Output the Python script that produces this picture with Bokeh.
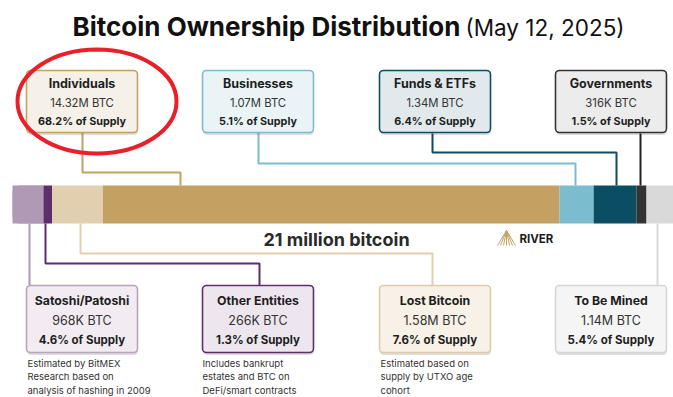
from bokeh.plotting import figure
from bokeh.models import Range1d, ColumnDataSource
from bokeh.core.properties import value
from bokeh.embed import file_html
from bokeh.resources import INLINE
import numpy as np

# ---------------- data ----------------
categories = ["Satoshi/Patoshi", "Other Entities", "Lost Bitcoin", "Individuals",
              "Businesses", "Funds & ETFs", "Governments", "To Be Mined"]
btc_held = ["968K", "266K", "1.58M", "14.32M", "1.07M", "1.34M", "316K", "1.14M"]
supply_pct = [4.6, 1.3, 7.6, 68.2, 5.1, 6.4, 1.5, 5.4]
notes_satoshi = ["Estimated by BitMEX", "Research based on", "analysis of hashing in 2009"]
notes_other = ["Includes bankrupt", "estates and BTC on", "DeFi/smart contracts"]
notes_lost = ["Estimated based on", "supply by UTXO age", "cohort"]
title_text = "Bitcoin Ownership Distribution"
date_text = "(May 12, 2025)"
bar_text = "21 million bitcoin"
brand_text = "RIVER"

# ---------------- styles / layout ----------------
bar_colors = ["#B099B4", "#5E2D6B", "#E2CFB0", "#C4A063",
              "#7BBCCE", "#0B4D63", "#333333", "#D9D9D9"]
box_fills = ["#F2ECF2", "#EDE6EF", "#F7F1E7", "#F5F0E8",
             "#EAF4F7", "#E1E9ED", "#ECECEC", "#F5F5F5"]
box_lines = ["#B9A3BD", "#5E2D6B", "#E0CBA8", "#C4A063",
             "#7BBCCE", "#0B4D63", "#333333", "#D6D6D6"]
line_colors = ["#B099B4", "#5E2D6B", "#E2CFB0", "#C4A063",
               "#7BBCCE", "#0B4D63", "#222222", "#D9D9D9"]
row_of = ["bottom", "bottom", "bottom", "top", "top", "top", "top", "bottom"]
col_of = [0, 1, 2, 0, 1, 2, 3, 3]
col_left = [26, 202, 379, 555]
BOX_W = 111
ROW_Y = {"top": (70, 132), "bottom": (285, 352)}
BAR_TOP, BAR_BOT = 185, 223
BAR_X0, PX_PER_PCT = 12, 6.695
connectors = [
    ([29, 29], [223, 285]),
    ([45, 45, 259, 259], [223, 263, 263, 285]),
    ([80, 80, 432, 432], [223, 253, 253, 285]),
    ([82, 82, 180, 180], [132, 172, 172, 185]),
    ([258, 258, 575, 575], [132, 163, 163, 185]),
    ([432, 432, 616, 616], [133, 152, 152, 185]),
    ([640, 640], [133, 185]),
    ([657, 657], [223, 285]),
]
FONT = value("Inter")
W, H = 673, 397
K = 0.33  # baseline compensation (fraction of font size)


def by(baseline, size):
    return baseline - K * size


p = figure(width=W, height=H, output_backend="svg", toolbar_location=None,
           x_range=Range1d(0, W), y_range=Range1d(H, 0),
           min_border=0, outline_line_color=None)
p.axis.visible = False
p.grid.visible = False
p.background_fill_color = "white"
p.border_fill_color = "white"
p.extra_x_ranges["pct"] = Range1d((0 - BAR_X0) / PX_PER_PCT, (W - BAR_X0) / PX_PER_PCT)

# ---- connectors ----
p.multi_line(xs=[c[0] for c in connectors], ys=[c[1] for c in connectors],
             line_color=line_colors, line_width=2)

# ---- bar ----
right = np.cumsum(supply_pct)
left = right - np.array(supply_pct)
bar_src = ColumnDataSource(dict(left=left, right=right, color=bar_colors))
p.quad(left="left", right="right", top=BAR_TOP, bottom=BAR_BOT, fill_color="color",
       line_color=None, source=bar_src, x_range_name="pct")
p.quad(left=[left[0]], right=[right[0]], top=BAR_TOP, bottom=BAR_BOT,
       fill_color=bar_colors[0], line_color=None, x_range_name="pct",
       border_radius=(7, 0, 0, 7))

# ---- boxes ----
bl = [col_left[c] for c in col_of]
br = [col_left[c] + BOX_W for c in col_of]
bt = [ROW_Y[r][0] for r in row_of]
bb = [ROW_Y[r][1] for r in row_of]
p.quad(left=[v + 0.5 for v in bl], right=[v + 0.5 for v in br],
       top=[v + 2 for v in bt], bottom=[v + 2.5 for v in bb],
       fill_color="black", fill_alpha=0.13, line_color=None, border_radius=4)
p.quad(left=bl, right=br, top=bt, bottom=bb, fill_color=box_fills,
       line_color=box_lines, line_width=1.6, border_radius=4)

T_TS, T_VS, T_PS = 12.5, 11.3, 10.8
B_TS, B_VS, B_PS = 12.3, 12.5, 11.5
cx = [(a + b) / 2 for a, b in zip(bl, br)]
title_y = [by(87.3, T_TS) if r == "top" else by(304, B_TS) for r in row_of]
val_y = [by(106.7, T_VS) if r == "top" else by(324.3, B_VS) for r in row_of]
pct_y = [by(125, T_PS) if r == "top" else by(342.8, B_PS) for r in row_of]
tsize = [f"{T_TS}px" if r == "top" else f"{B_TS}px" for r in row_of]
vsize = [f"{T_VS}px" if r == "top" else f"{B_VS}px" for r in row_of]
psize = [f"{T_PS}px" if r == "top" else f"{B_PS}px" for r in row_of]
txt_src = ColumnDataSource(dict(
    x=cx, ty=title_y, vy=val_y, py=pct_y, ts=tsize, vs=vsize, ps=psize,
    name=categories, val=[f"{b} BTC" for b in btc_held],
    pct=[f"{v}% of Supply" for v in supply_pct]))
p.text(x="x", y="ty", text="name", source=txt_src, text_font=FONT,
       text_font_style="bold", text_font_size="ts", text_align="center",
       text_baseline="alphabetic", text_color="#1E1E1E")
p.text(x="x", y="vy", text="val", source=txt_src, text_font=FONT,
       text_font_size="vs", text_align="center",
       text_baseline="alphabetic", text_color="#333333")
p.text(x="x", y="py", text="pct", source=txt_src, text_font=FONT,
       text_font_style="bold", text_font_size="ps", text_align="center",
       text_baseline="alphabetic", text_color="#1E1E1E")

# ---- notes ----
NS = 9.5
for lines, xl in ((notes_satoshi, 27), (notes_other, 202), (notes_lost, 380)):
    p.text(x=[xl] * len(lines), y=[by(365.7 + 13.5 * i, NS) for i in range(len(lines))],
           text=lines, text_font=FONT, text_font_size=f"{NS}px",
           text_align="left", text_baseline="alphabetic", text_color="#333333")

# ---- titles ----
p.text(x=[72], y=[by(34.3, 26)], text=[title_text], text_font=FONT, text_font_style="bold",
       text_font_size="26px", text_align="left", text_baseline="alphabetic",
       text_color="#111111")
p.text(x=[465], y=[by(34.3, 22.5)], text=[date_text], text_font=FONT,
       text_font_size="22.5px", text_align="left", text_baseline="alphabetic",
       text_color="#111111")
p.text(x=[336], y=[by(244.5, 18)], text=[bar_text], text_font=FONT, text_font_style="bold",
       text_font_size="18px", text_align="center", text_baseline="alphabetic",
       text_color="#2A2A2A")

# ---- RIVER logo ----
apex = (506, 230)
p.multi_line(xs=[[apex[0], bx] for bx in (497, 500, 503, 506, 509, 512, 515)],
             ys=[[apex[1], 245] for _ in range(7)], line_color="#C4A063", line_width=1)
p.text(x=[519], y=[by(242.5, 11.5)], text=[brand_text], text_font=FONT,
       text_font_style="bold", text_font_size="11.5px", text_align="left",
       text_baseline="alphabetic", text_color="#1E1E1E")

# ---- highlight ellipse ----
p.ellipse(x=[96.5], y=[101], width=[159], height=[104], fill_color=None,
          line_color="#E8202A", line_width=4)

open("out.html", "w").write(file_html(p, INLINE))
